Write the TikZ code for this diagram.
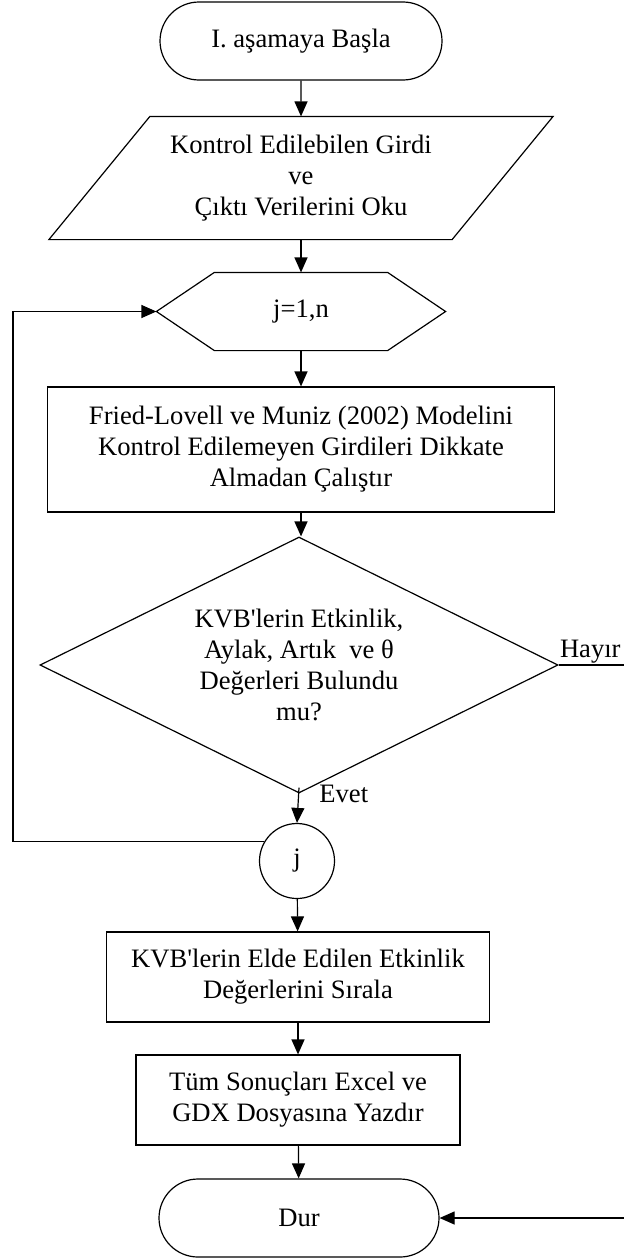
\documentclass[tikz,border=0pt]{standalone}
\usepackage{fontspec}
\setmainfont{Liberation Serif}
\usepackage{tikz}
\usetikzlibrary{arrows.meta,shapes.geometric,shapes.misc}
\tikzset{
  blk/.style={draw=black, line width=0.6pt, inner sep=2pt,
              font=\fontsize{13.3}{15.5}\selectfont, align=center},
  termbox/.style={blk, rounded rectangle, minimum width=145pt, minimum height=39pt},
  procbox/.style={blk, rectangle},
  txtbox/.style={blk, draw=none, rectangle},
  decbox/.style={blk, diamond, aspect=2, inner sep=0pt},
  joinbox/.style={blk, circle, inner sep=0pt, minimum size=37.5pt},
  outline/.style={line width=0.6pt, line join=miter},
  arr/.style={-{Stealth[length=7.5pt,width=6.5pt,inset=0pt]}, line width=0.6pt},
  lbl/.style={font=\fontsize{13.3}{15.5}\selectfont, inner sep=1pt}
}
\begin{document}
\begin{tikzpicture}[x=0.5pt,y=-0.5pt]
\useasboundingbox (0,0) rectangle (623,1258);
% start, input (parallelogram) and loop head (hexagon)
\node[termbox] (start) at (301,41) {I. aşamaya Başla};
\node[txtbox, minimum width=251.5pt, minimum height=61pt] (read) at (301,178)
  {Kontrol Edilebilen Girdi\\ve\\Çıktı Verilerini Oku};
\draw[outline] ([xshift=50.5pt]read.north west) -- (read.north east)
  -- ([xshift=-50.5pt]read.south east) -- (read.south west) -- cycle;
\node[txtbox, minimum width=144pt, minimum height=38.5pt] (loop) at (301,311.5) {j=1,n};
\draw[outline] ([xshift=29pt]loop.north west) -- ([xshift=-29pt]loop.north east)
  -- (loop.east) -- ([xshift=-29pt]loop.south east)
  -- ([xshift=29pt]loop.south west) -- (loop.west) -- cycle;
% model run and check
\node[procbox, minimum width=253.5pt, minimum height=62.5pt] (model) at (301,449.5)
  {Fried-Lovell ve Muniz (2002) Modelini\\Kontrol Edilemeyen Girdileri Dikkate\\Almadan Çalıştır};
\node[decbox, minimum width=259pt, minimum height=128pt] (check) at (299,665)
  {KVB\textquotesingle lerin Etkinlik,\\Aylak, Artık~ ve θ\\Değerleri Bulundu\\mu?};
\node[joinbox] (join) at (297,861) {j};
% results
\node[procbox, minimum width=191.5pt, minimum height=45pt] (sort) at (298,977)
  {KVB\textquotesingle lerin Elde Edilen Etkinlik\\Değerlerini Sırala};
\node[procbox, minimum width=162pt, minimum height=45pt] (write) at (298,1100)
  {Tüm Sonuçları Excel ve\\GDX Dosyasına Yazdır};
\node[termbox, minimum width=144pt] (stop) at (299,1218) {Dur};
% connectors
\coordinate (lft) at (13,311);
\coordinate (rgt) at (650,665);
\draw[arr] (start) -- (read);
\draw[arr] (read) -- (loop);
\draw[arr] (loop) -- (model);
\draw[arr] (model.south) -- (model.south |- check.north);
\draw[arr] ([yshift=3pt]check.south) -- (join.north);
\draw[arr] (join) -- (sort);
\draw[arr] (sort) -- (write);
\draw[arr] (write) -- (stop);
\draw[arr] (join.149) -- (join.149 -| lft) |- (loop.west);
\draw[arr] (check.east) -- (check.east -| rgt) |- (stop.east);
\node[lbl, anchor=south west, inner sep=0.5pt] (no) at (check.east) {Hayır};
\node[lbl, anchor=west, xshift=9pt] (yes) at (check.south) {Evet};
\end{tikzpicture}
\end{document}
